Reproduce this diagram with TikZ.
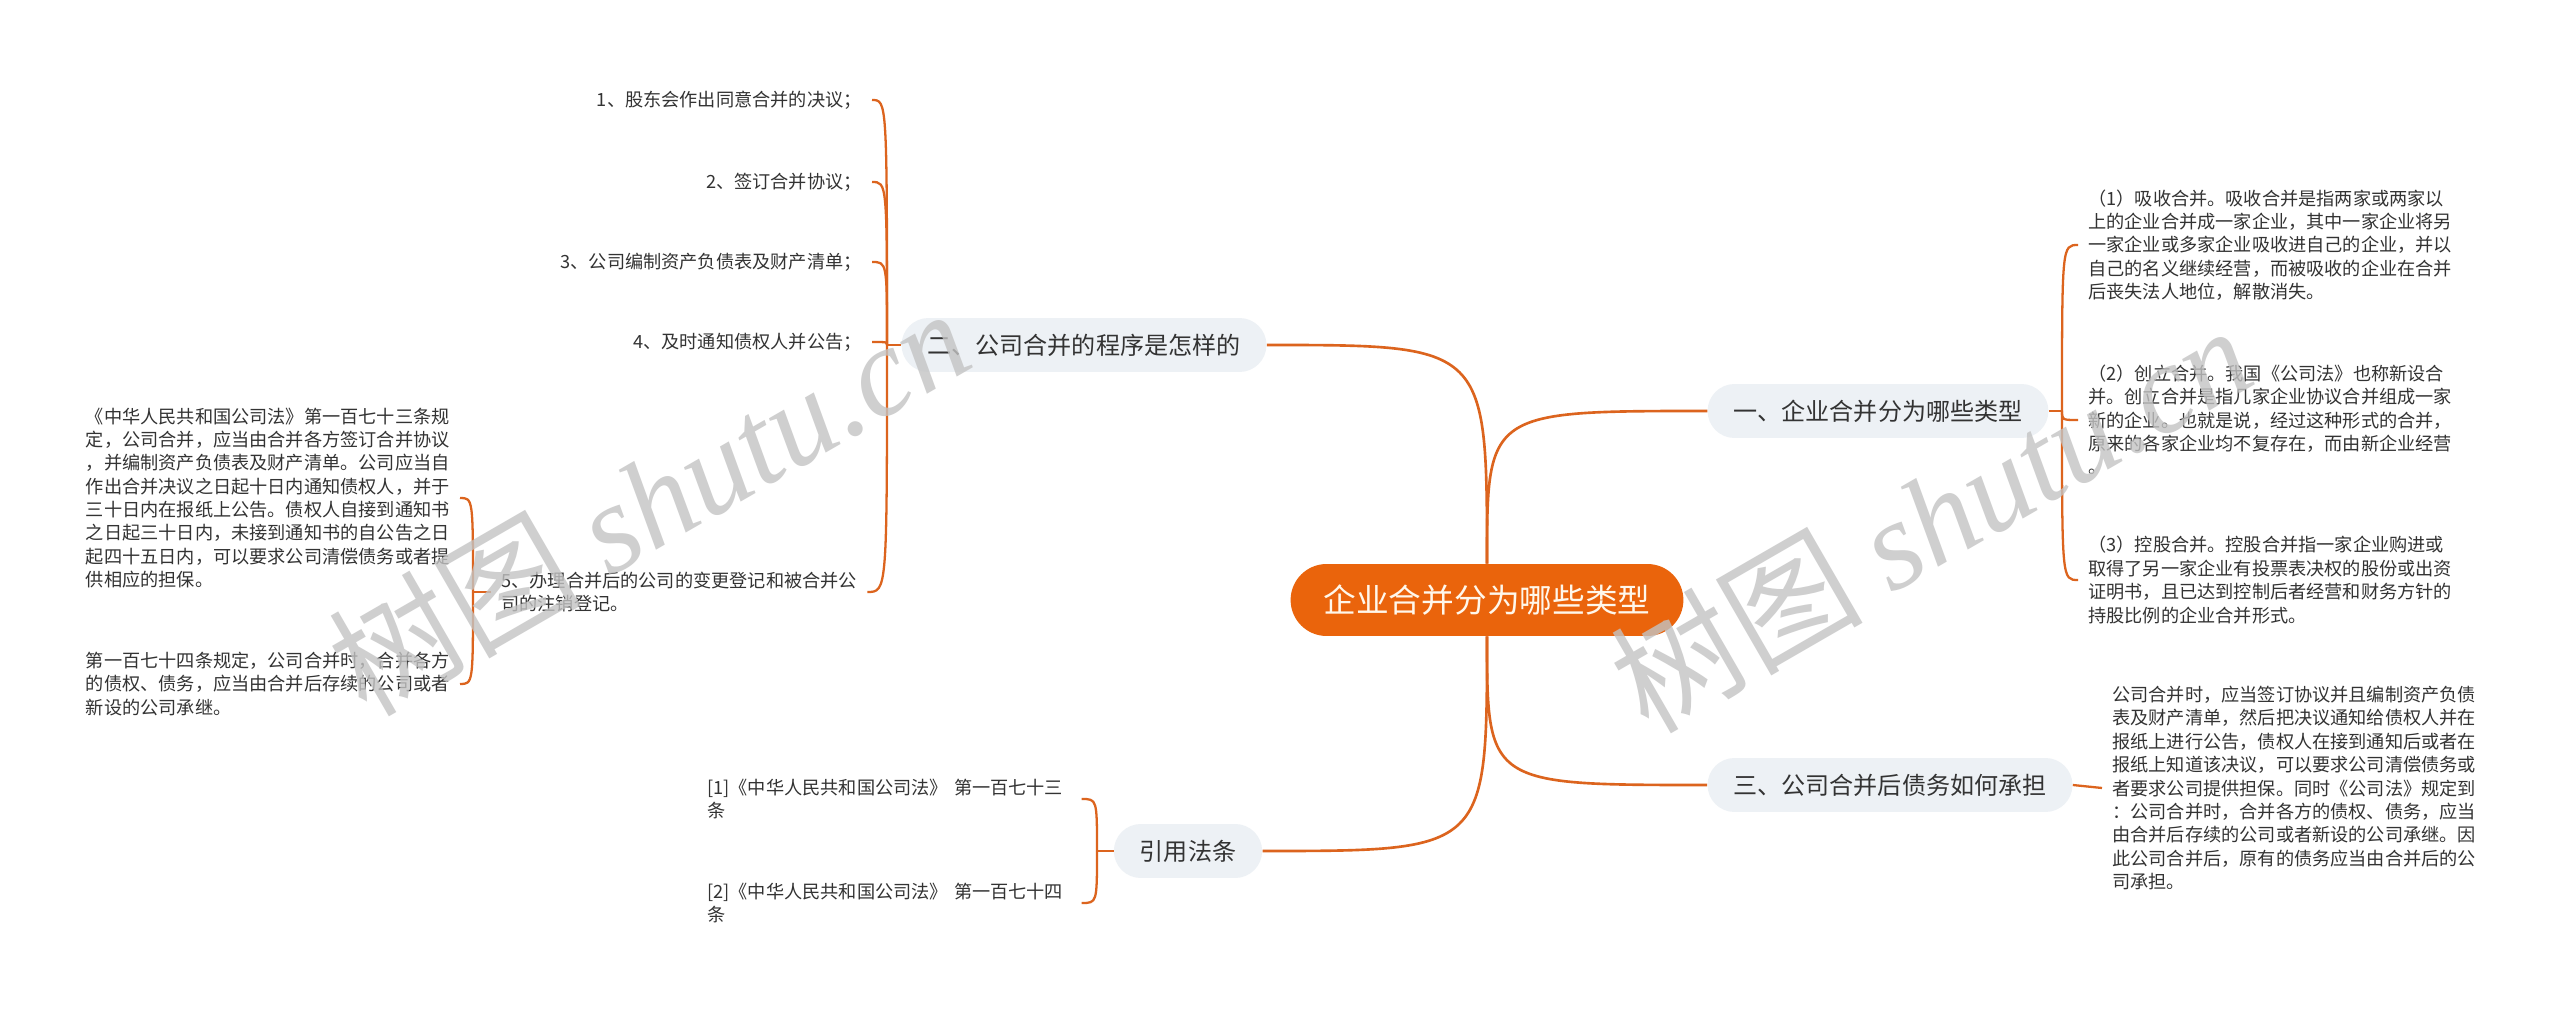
\documentclass[tikz,border=0pt]{standalone}
\usepackage{fontspec}
\setmainfont{Noto Sans CJK SC}
\newfontfamily\marcafont{Liberation Serif}

\begin{document}
\begin{tikzpicture}[
    x=0.02cm, y=-0.02cm,
    ramo/.style={fill=RamoFill, text=Texto, rounded corners=0.54cm,
        inner xsep=0.52cm, inner ysep=0pt, minimum height=1.08cm,
        font=\fontsize{13.7}{17}\selectfont},
    folha/.style={text=Texto, inner xsep=0.2cm, inner ysep=0pt, align=left,
        font=\fontsize{10.35}{13.3}\selectfont},
    liga/.style={draw=Linha, line width=1.5pt},
    chave/.style={draw=Linha, line width=1.3pt},
    marca/.style={text=Marca, opacity=0.8, rotate=30,
        font=\fontsize{72}{74}\selectfont}
]

\definecolor{Linha}{RGB}{220,100,30}
\definecolor{Centro}{RGB}{234,100,12}
\definecolor{CentroTexto}{RGB}{255,247,235}
\definecolor{RamoFill}{RGB}{237,241,245}
\definecolor{Texto}{RGB}{51,51,51}
\definecolor{Marca}{RGB}{195,195,195}

\path[use as bounding box, fill=white] (0,0) rectangle (2560,1013);

% ── Nó central ──────────────────────────────────────────────
\node[fill=Centro, text=CentroTexto, rounded corners=0.72cm,
    inner xsep=0.66cm, inner ysep=0pt, minimum height=1.44cm,
    font=\fontsize{18.6}{22}\selectfont] (ctr) at (1487,600) {企业合并分为哪些类型};

% ── Ramos ───────────────────────────────────────────────────
\node[ramo] (n2)   at (1084,345) {二、公司合并的程序是怎样的};
\node[ramo] (n1)   at (1878,411) {一、企业合并分为哪些类型};
\node[ramo] (n3)   at (1890,785) {三、公司合并后债务如何承担};
\node[ramo] (nref) at (1188,851) {引用法条};

\draw[liga] (ctr.north) .. controls (ctr.north |- n2.east) .. (n2.east);
\draw[liga] (ctr.north) .. controls (ctr.north |- n1.west) .. (n1.west);
\draw[liga] (ctr.south) .. controls (ctr.south |- n3.west) .. (n3.west);
\draw[liga] (ctr.south) .. controls (ctr.south |- nref.east) .. (nref.east);

% ── Passos (ramo dois) ──────────────────────────────────────
\node[folha, anchor=east] (i1) at (872,100) {1、股东会作出同意合并的决议；};
\node[folha, anchor=east] (i2) at (872,182) {2、签订合并协议；};
\node[folha, anchor=east] (i3) at (872,262) {3、公司编制资产负债表及财产清单；};
\node[folha, anchor=east] (i4) at (872,342) {4、及时通知债权人并公告；};
\node[folha, anchor=west] (i5) at (491,592) {5、办理合并后的公司的变更登记和被合并公\\司的注销登记。};

\coordinate (j2) at (887,345);
\draw[chave] (n2.west) -- (j2);
\foreach \f in {i1,i2,i3,i4,i5}
    \draw[chave] (j2) .. controls (j2 |- \f.east) .. (\f.east);

% "5" e os dois artigos
\node[folha, anchor=east] (p1) at (460,498) {《中华人民共和国公司法》第一百七十三条规\\定，公司合并，应当由合并各方签订合并协议\\，并编制资产负债表及财产清单。公司应当自\\作出合并决议之日起十日内通知债权人，并于\\三十日内在报纸上公告。债权人自接到通知书\\之日起三十日内，未接到通知书的自公告之日\\起四十五日内，可以要求公司清偿债务或者提\\供相应的担保。};
\node[folha, anchor=east] (p2) at (460,684) {第一百七十四条规定，公司合并时，合并各方\\的债权、债务，应当由合并后存续的公司或者\\新设的公司承继。};

\coordinate (j5) at (473,592);
\draw[chave] (i5.west) -- (j5);
\foreach \f in {p1,p2}
    \draw[chave] (j5) .. controls (j5 |- \f.east) .. (\f.east);

% ── Tipos (ramo um) ─────────────────────────────────────────
\node[folha, anchor=west] (q1) at (2078,245) {（1）吸收合并。吸收合并是指两家或两家以\\上的企业合并成一家企业，其中一家企业将另\\一家企业或多家企业吸收进自己的企业，并以\\自己的名义继续经营，而被吸收的企业在合并\\后丧失法人地位，解散消失。};
\node[folha, anchor=west] (q2) at (2078,420) {（2）创立合并。我国《公司法》也称新设合\\并。创立合并是指几家企业协议合并组成一家\\新的企业。也就是说，经过这种形式的合并，\\原来的各家企业均不复存在，而由新企业经营\\。};
\node[folha, anchor=west] (q3) at (2078,580) {（3）控股合并。控股合并指一家企业购进或\\取得了另一家企业有投票表决权的股份或出资\\证明书，且已达到控制后者经营和财务方针的\\持股比例的企业合并形式。};

\coordinate (j1) at (2062,411);
\draw[chave] (n1.east) -- (j1);
\foreach \f in {q1,q2,q3}
    \draw[chave] (j1) .. controls (j1 |- \f.west) .. (\f.west);

% ── Dívidas (ramo três) ─────────────────────────────────────
\node[folha, anchor=west] (r1) at (2102,788) {公司合并时，应当签订协议并且编制资产负债\\表及财产清单，然后把决议通知给债权人并在\\报纸上进行公告，债权人在接到通知后或者在\\报纸上知道该决议，可以要求公司清偿债务或\\者要求公司提供担保。同时《公司法》规定到\\：公司合并时，合并各方的债权、债务，应当\\由合并后存续的公司或者新设的公司承继。因\\此公司合并后，原有的债务应当由合并后的公\\司承担。};
\draw[chave] (n3.east) -- (r1.west);

% ── Referências ─────────────────────────────────────────────
\node[folha, anchor=west, text width=7.28cm] (f1) at (697,799) {[1]《中华人民共和国公司法》 第一百七十三\\条};
\node[folha, anchor=west, text width=7.28cm] (f2) at (697,903) {[2]《中华人民共和国公司法》 第一百七十四\\条};

\coordinate (jr) at (1097,851);
\draw[chave] (nref.west) -- (jr);
\foreach \f in {f1,f2}
    \draw[chave] (jr) .. controls (jr |- \f.east) .. (\f.east);

% ── Marca d'água ────────────────────────────────────────────
\node[marca] (wm1) at (648,500)  {树图 {\marcafont\itshape shutu.cn}};
\node[marca] (wm2) at (1930,517) {树图 {\marcafont\itshape shutu.cn}};

\end{tikzpicture}
\end{document}
